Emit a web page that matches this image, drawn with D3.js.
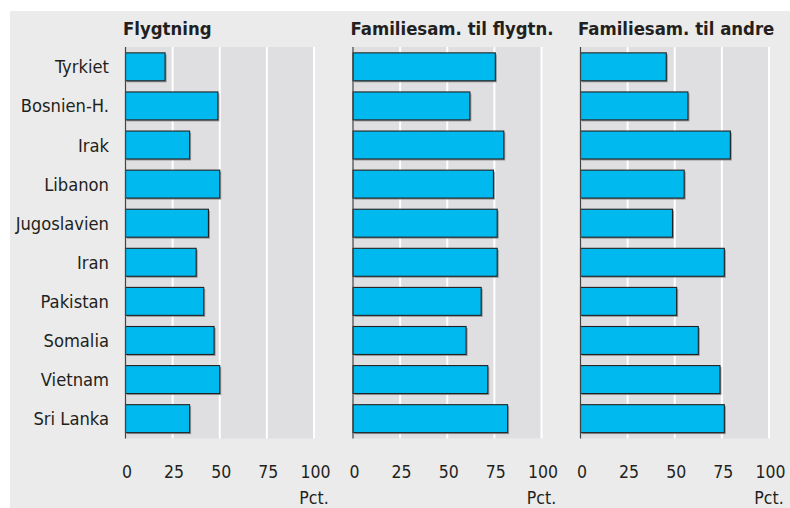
<!DOCTYPE html>
<html><head><meta charset="utf-8">
<script src="https://cdn.jsdelivr.net/npm/d3@7/dist/d3.min.js"></script>
<style>
html,body{margin:0;padding:0;background:#fff;}
svg{display:block;}
text{font-family:"DejaVu Sans Condensed","DejaVu Sans",sans-serif;font-stretch:condensed;fill:#231f20;}
</style></head>
<body><svg id="chart" width="790" height="508"></svg>
<script>
const categories = ["Tyrkiet","Bosnien-H.","Irak","Libanon","Jugoslavien","Iran","Pakistan","Somalia","Vietnam","Sri Lanka"];
const panelTitles = ["Flygtning","Familiesam. til flygtn.","Familiesam. til andre"];
const flygtning  = [21, 49, 34, 50, 44, 37.5, 41.5, 47, 50, 34];
const famFlygtn  = [75.5, 62, 80, 74.5, 76.5, 76.5, 68, 60, 71.5, 82];
const famAndre   = [45.5, 57, 79.5, 55, 48.8, 76.3, 51, 62.5, 74, 76.3];
const tickValues = [0, 25, 50, 75, 100];
const unitLabel = "Pct.";

const series = [flygtning, famFlygtn, famAndre];

const svg = d3.select("#chart");
svg.append("rect").attr("x",10).attr("y",11).attr("width",780).attr("height",497).attr("fill","#ebebeb");

const plotTop = 47, plotBottom = 438.5;
const panelX = [125.5, 353, 580.5];
const panelW = 188.5;

const y = d3.scaleBand().domain(categories).range([plotTop, plotBottom]).paddingInner(0.285).paddingOuter(0.15);

// category labels
svg.append("g").selectAll("text").data(categories).join("text")
  .attr("x", 109).attr("y", d => y(d) + y.bandwidth()/2)
  .attr("dy","0.36em").attr("text-anchor","end").attr("font-size",18.2).text(d => d);

series.forEach((vals, i) => {
  const x = d3.scaleLinear().domain([0,100]).range([panelX[i], panelX[i] + panelW]);
  const g = svg.append("g");
  g.append("rect").attr("x", x(0)).attr("y", plotTop).attr("width", x(100)-x(0)).attr("height", plotBottom-plotTop).attr("fill","#dfdfe1");
  g.selectAll("line.grid").data(tickValues.filter(t => t>0)).join("line")
    .attr("x1", d => x(d)).attr("x2", d => x(d)).attr("y1", plotTop).attr("y2", plotBottom)
    .attr("stroke","#ffffff").attr("stroke-width",2);
  // title
  g.append("text").attr("x", x(0) - 2.5).attr("y", 34.5).attr("font-weight","bold").attr("font-size",18.4).text(panelTitles[i]);
  // bars shadow
  g.selectAll("rect.sh").data(vals).join("rect")
    .attr("x", x(0)+1.5).attr("y", (d,j) => y(categories[j]) + 1.5)
    .attr("width", d => x(d)-x(0)).attr("height", y.bandwidth())
    .attr("fill","#7d7d7d").attr("opacity",0.75);
  g.selectAll("rect.bar").data(vals).join("rect")
    .attr("x", x(0)).attr("y", (d,j) => y(categories[j]))
    .attr("width", d => x(d)-x(0)).attr("height", y.bandwidth())
    .attr("fill","#00b9ef").attr("stroke","#222").attr("stroke-width",1.1);
  // axis line
  g.append("line").attr("x1", x(0)).attr("x2", x(0)).attr("y1", plotTop).attr("y2", plotBottom).attr("stroke","#444").attr("stroke-width",1.2);
  // tick labels
  const axis = d3.axisBottom(x).tickValues(tickValues).tickSize(0).tickPadding(0);
  const ag = g.append("g").attr("transform", `translate(1, 478)`).call(axis);
  ag.select(".domain").remove();
  ag.selectAll("text").attr("dy", 0).attr("font-size",17.5).attr("fill","#231f20")
    .style("font-family",'"DejaVu Sans Condensed","DejaVu Sans",sans-serif').style("font-stretch","condensed");
  g.append("text").attr("x", x(100)).attr("y", 504).attr("text-anchor","middle").attr("font-size",17.5).text(unitLabel);
});
</script></body></html>
